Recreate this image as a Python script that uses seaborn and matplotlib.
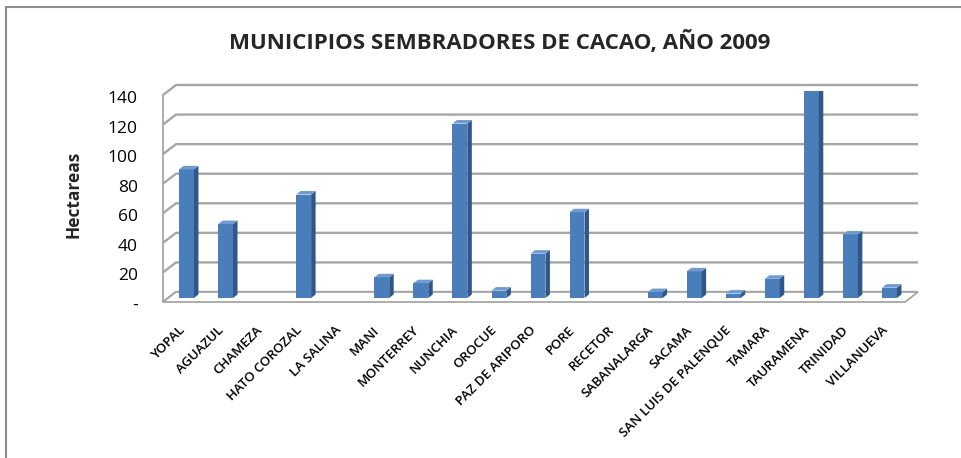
import numpy as np
import matplotlib
matplotlib.use("Agg")
import matplotlib.pyplot as plt
from matplotlib.patches import Polygon, Rectangle
from matplotlib.transforms import ScaledTranslation
import pandas as pd
import seaborn as sns

# datos
municipios = ["YOPAL", "AGUAZUL", "CHAMEZA", "HATO COROZAL", "LA SALINA", "MANI",
              "MONTERREY", "NUNCHIA", "OROCUE", "PAZ DE ARIPORO", "PORE", "RECETOR",
              "SABANALARGA", "SACAMA", "SAN LUIS DE PALENQUE", "TAMARA", "TAURAMENA",
              "TRINIDAD", "VILLANUEVA"]
hectareas = [87, 50, 0, 70, 0, 14, 10, 118, 5, 30, 58, 0, 4, 18, 3, 13, 140, 43, 7]
y_ticks = [0, 20, 40, 60, 80, 100, 120, 140]
y_tick_labels = ["-", "20", "40", "60", "80", "100", "120", "140"]

df = pd.DataFrame({"municipio": municipios, "hectareas": hectareas})

sns.set_theme(style="white")
plt.rcParams["font.family"] = ["Open Sans", "DejaVu Sans"]

W, H = 961, 458
fig = plt.figure(figsize=(W / 100, H / 100), dpi=100)
ax = fig.add_axes([167 / W, (H - 298) / H, 742 / W, 207 / H])

front_col = "#4a7ebb"
side_col = "#2f5889"
top_col = "#6f9bd2"
grid_col = "#a6a6a6"

sns.barplot(data=df, x="municipio", y="hectareas", color=front_col, saturation=1,
            width=0.38, errorbar=None, ax=ax, zorder=3, edgecolor="none")

x0, x1 = -0.5, len(municipios) - 0.5
ax.set_xlim(x0, x1)
ax.set_ylim(0, 140)

# pixeles -> unidades de datos
ppx = (742 / (x1 - x0))
ppy = 207 / 140.0
def d(px, py):
    return px / ppx, py / ppy

bdx, bdy = d(9, 6)     # pared del fondo
fdx, fdy = d(-4, -4)   # borde frontal
kdx, kdy = d(4.5, 3.5)  # profundidad de la barra

# piso
floor = Polygon([(x0 + fdx, fdy), (x1 + fdx, fdy), (x1 + bdx, bdy), (x0 + bdx, bdy)],
                closed=True, facecolor="white", edgecolor=grid_col, lw=1.3,
                zorder=1, clip_on=False)
ax.add_patch(floor)

# lineas de division en la pared del fondo y pared lateral
for t in y_ticks:
    ax.plot([x0 + fdx, x0 + bdx, x1 + bdx], [t + fdy, t + bdy, t + bdy],
            color=grid_col, lw=1.7, zorder=0, clip_on=False, solid_capstyle="butt")
ax.plot([x0 + fdx, x0 + fdx], [fdy, 140 + fdy], color=grid_col, lw=1.3,
        zorder=0, clip_on=False)

# caras laterales y superiores
for p in ax.patches[:]:
    if not hasattr(p, "get_width") or p is floor:
        continue
    h = p.get_height()
    if h <= 0:
        continue
    x = p.get_x()
    w = p.get_width()
    side = Polygon([(x + w, 0), (x + w + kdx, kdy), (x + w + kdx, h + kdy), (x + w, h)],
                   closed=True, facecolor=side_col, edgecolor="none", zorder=3)
    top = Polygon([(x, h), (x + kdx, h + kdy), (x + w + kdx, h + kdy), (x + w, h)],
                  closed=True, facecolor=top_col, edgecolor="none", zorder=3)
    ax.add_patch(side)
    ax.add_patch(top)

for s in ax.spines.values():
    s.set_visible(False)

ax.set_yticks(y_ticks)
ax.set_yticklabels(y_tick_labels, fontsize=12.5, color="black")
ax.tick_params(axis="y", length=0, pad=21)
for lab in ax.get_yticklabels():
    lab.set_transform(lab.get_transform() + ScaledTranslation(0, -6 / 100, fig.dpi_scale_trans))

ax.set_xticks(range(len(municipios)))
ax.set_xticklabels(municipios, rotation=45, ha="right", va="center",
                   rotation_mode="anchor", fontsize=9.5, fontweight="semibold",
                   color="black")
ax.tick_params(axis="x", length=0, pad=0)
for lab in ax.get_xticklabels():
    lab.set_transform(lab.get_transform() + ScaledTranslation(-4 / 100, -30 / 100, fig.dpi_scale_trans))

ax.set_xlabel("")
ax.set_ylabel("Hectareas", fontsize=12.5, fontweight="bold", labelpad=18)

fig.text(500 / W, 1 - 42 / H, "MUNICIPIOS SEMBRADORES DE CACAO, AÑO 2009",
         ha="center", va="center", fontsize=16, fontweight="bold")

# borde del area del grafico
fig.patches.append(Rectangle((6 / W, -0.1), 1.2, 1.1 - 7 / H, transform=fig.transFigure,
                             fill=False, edgecolor="#8c8c8c", lw=1.5))

fig.savefig("out.png", dpi=100)
